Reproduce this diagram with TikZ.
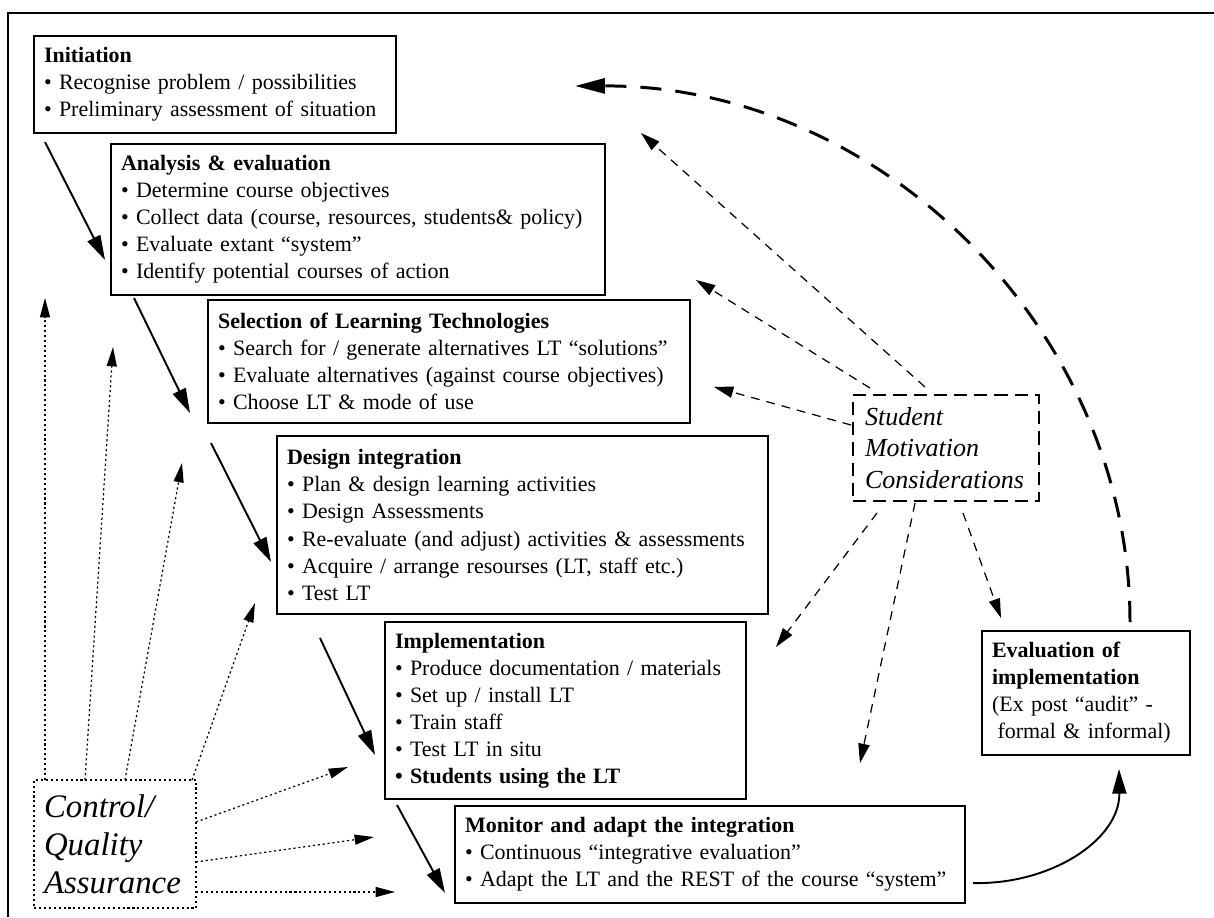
\documentclass[tikz,border=0pt]{standalone}
\usepackage{fontspec}
\setmainfont{Liberation Serif}
\usetikzlibrary{arrows.meta}

\begin{document}
\begin{tikzpicture}[x=0.02cm, y=-0.02cm,
stage/.style={draw, line width=0.85pt, align=left, inner xsep=0.2cm, inner ysep=0pt, font=\fontsize{12.5}{15.4}\selectfont},
flow/.style={line width=1.1pt, -{Triangle[length=14pt,width=8pt]}},
motive/.style={line width=0.7pt, dash pattern=on 5pt off 4pt, -{Triangle[length=11pt,width=6.5pt]}},
qa/.style={line width=0.7pt, dash pattern=on 1.2pt off 1.6pt, -{Triangle[length=11pt,width=5.7pt]}},
feedback/.style={line width=1.7pt, dash pattern=on 12pt off 8pt, -{Triangle[length=17pt,width=8.5pt]}}]
\useasboundingbox (0,0) rectangle (1214,917);
\draw[line width=1.4pt] (8,917) -- (8,13) -- (1214,13);

\node[stage, text width=6.84cm, minimum height=1.94cm] (init) at (215,84.5) {\textbf{Initiation}\\• Recognise problem / possibilities\\• Preliminary assessment of situation};
\node[stage, text width=9.48cm, minimum height=3.02cm] (analysis) at (358,219.5) {\textbf{Analysis \& evaluation}\\• Determine course objectives\\• Collect data (course, resources, students\& policy)\\• Evaluate extant “system”\\• Identify potential courses of action};
\node[stage, text width=9.24cm, minimum height=2.46cm] (selection) at (449,361.5) {\textbf{Selection of Learning Technologies}\\• Search for / generate alternatives LT “solutions”\\• Evaluate alternatives (against course objectives)\\• Choose LT \& mode of use};
\node[stage, text width=9.42cm, minimum height=3.56cm] (design) at (522.5,525) {\textbf{Design integration}\\• Plan \& design learning activities\\• Design Assessments\\• Re-evaluate (and adjust) activities \& assessments\\• Acquire / arrange resourses (LT, staff etc.)\\• Test LT};
\node[stage, text width=6.82cm, minimum height=3.54cm] (implement) at (565.5,710.5) {\textbf{Implementation}\\• Produce documentation / materials\\• Set up / install LT\\• Train staff\\• Test LT in situ\\\textbf{• Students using the LT}};
\node[stage, text width=9.8cm, minimum height=1.94cm] (monitor) at (710,854.5) {\textbf{Monitor and adapt the integration}\\• Continuous “integrative evaluation”\\• Adapt the LT and the REST of the course “system”};
\node[stage, text width=3.76cm, minimum height=2.48cm] (evaluate) at (1086,693) {\textbf{Evaluation of}\\\textbf{implementation}\\(Ex post “audit” -\\\hspace*{0.25em}formal \& informal)};
\node[draw, line width=0.8pt, dash pattern=on 7.5pt off 4pt, align=left, inner xsep=0.24cm, inner ysep=0pt, text width=3.24cm, minimum height=2.12cm, font=\fontsize{14.8}{17.9}\selectfont\itshape] (motivation) at (946,448) {Student\\Motivation\\Considerations};
\node[draw, line width=0.8pt, dash pattern=on 1.2pt off 1.6pt, align=left, inner xsep=0.2cm, inner ysep=0pt, text width=2.84cm, minimum height=2.56cm, font=\fontsize{18.7}{21.6}\selectfont\itshape] (quality) at (115,844) {Control/\\Quality\\Assurance};

\coordinate (f1) at (45,142); \coordinate (f1e) at (105,260);
\coordinate (f2) at (134,298); \coordinate (f2e) at (190,413);
\coordinate (f3) at (211,443); \coordinate (f3e) at (271,562);
\coordinate (f4) at (320,638); \coordinate (f4e) at (375,755);
\coordinate (f5) at (397,805); \coordinate (f5e) at (445,893);
\draw[flow] (f1) -- (f1e);
\draw[flow] (f2) -- (f2e);
\draw[flow] (f3) -- (f3e);
\draw[flow] (f4) -- (f4e);
\draw[flow] (f5) -- (f5e);

\coordinate (ev) at (973,883); \coordinate (eve) at (1119,769);
\draw[flow] (ev) .. controls (1050,885) and (1120,840) .. (eve);

\coordinate (fb) at (1130,622); \coordinate (fbe) at (575,86);
\draw[feedback] (fb) .. controls (1130,330) and (880,85) .. (fbe);

\coordinate (m1) at (925,387); \coordinate (m1e) at (641,133);
\coordinate (m2) at (870,388); \coordinate (m2e) at (696,280);
\coordinate (m3) at (851,425); \coordinate (m3e) at (714,387);
\coordinate (m4) at (877,513); \coordinate (m4e) at (776,647);
\coordinate (m5) at (915,503); \coordinate (m5e) at (860,763);
\coordinate (m6) at (963,513); \coordinate (m6e) at (1001,618);
\draw[motive] (m1) -- (m1e);
\draw[motive] (m2) -- (m2e);
\draw[motive] (m3) -- (m3e);
\draw[motive] (m4) -- (m4e);
\draw[motive] (m5) -- (m5e);
\draw[motive] (m6) -- (m6e);

\coordinate (q1) at (45,780); \coordinate (q1e) at (45,298);
\coordinate (q2) at (85,780); \coordinate (q2e) at (113,347);
\coordinate (q3) at (125,780); \coordinate (q3e) at (182,463);
\coordinate (q4) at (192,780); \coordinate (q4e) at (255,603);
\coordinate (q5) at (196,822); \coordinate (q5e) at (348,767);
\coordinate (q6) at (196,862); \coordinate (q6e) at (374,837);
\coordinate (q7) at (196,892); \coordinate (q7e) at (395,892);
\draw[qa] (q1) -- (q1e);
\draw[qa] (q2) -- (q2e);
\draw[qa] (q3) -- (q3e);
\draw[qa] (q4) -- (q4e);
\draw[qa] (q5) -- (q5e);
\draw[qa] (q6) -- (q6e);
\draw[qa] (q7) -- (q7e);
\end{tikzpicture}
\end{document}
